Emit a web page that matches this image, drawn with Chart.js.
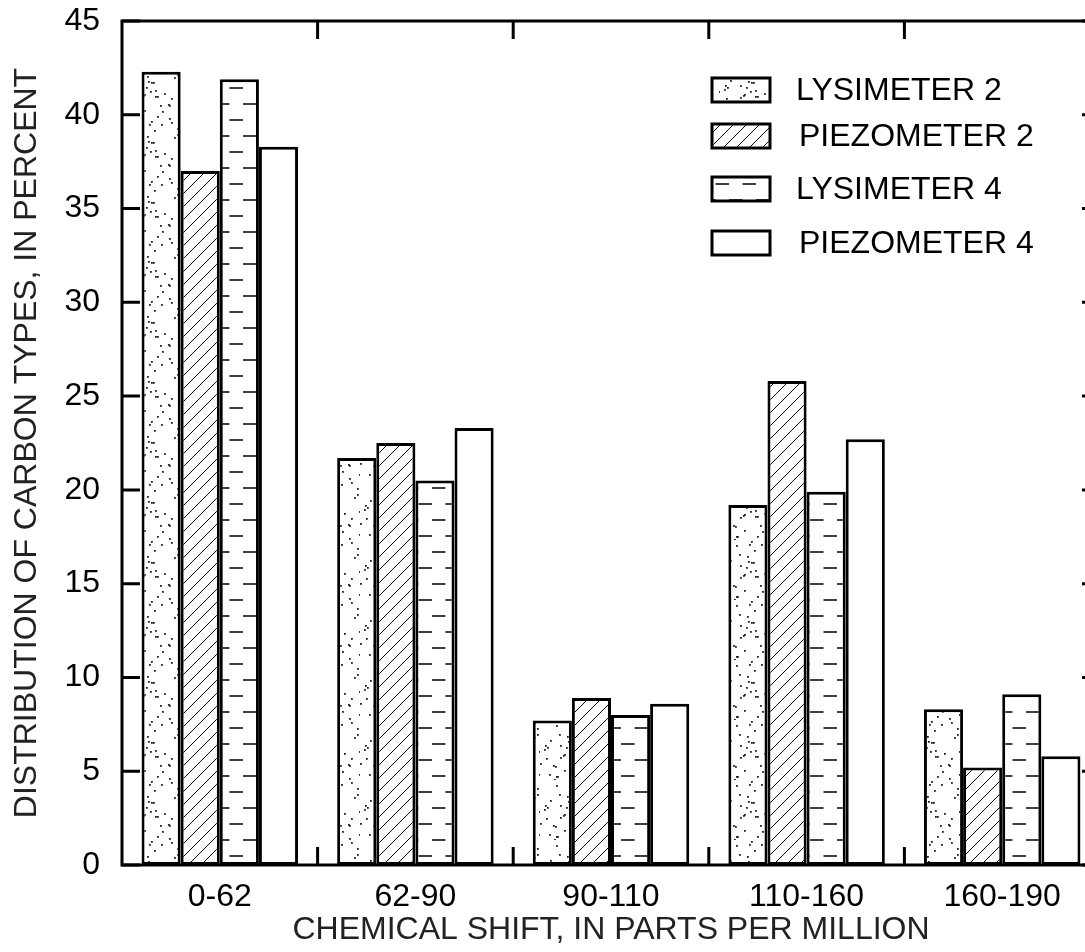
<!DOCTYPE html>
<html>
<head>
<meta charset="utf-8">
<title>Distribution of carbon types</title>
<script src="https://cdn.jsdelivr.net/npm/chart.js@4.4.0/dist/chart.umd.min.js"></script>
<style>
  html, body { margin: 0; padding: 0; background: #fff; overflow: hidden; }
  #wrap { position: relative; width: 1102px; height: 952px; }
</style>
</head>
<body>
<div id="wrap"><canvas id="chart"></canvas></div>
<script>
// --- Data ---
const categories = ['0-62', '62-90', '90-110', '110-160', '160-190'];
const seriesNames = ['LYSIMETER 2', 'PIEZOMETER 2', 'LYSIMETER 4', 'PIEZOMETER 4'];
const lysimeter2 = [42.3, 21.7, 7.7, 19.2, 8.3];
const piezometer2 = [37.0, 22.5, 8.9, 25.8, 5.2];
const lysimeter4 = [41.9, 20.5, 8.0, 19.9, 9.1];
const piezometer4 = [38.3, 23.3, 8.6, 22.7, 5.8];
const yTicks = [0, 5, 10, 15, 20, 25, 30, 35, 40, 45];

const FONT = '"Liberation Sans", Arial, sans-serif';
const FSIZE = 32;

// --- Fill patterns (stipple, hatch, dashes, plain) ---
function makeTile(w, h, draw) {
    const c = document.createElement('canvas');
    c.width = w; c.height = h;
    const g = c.getContext('2d');
    g.fillStyle = '#fff';
    g.fillRect(0, 0, w, h);
    draw(g);
    return document.createElement('canvas').getContext('2d').createPattern(c, 'repeat');
}

// texture only: scattered stipple dots
function hash(n) {
    const s = Math.sin(n * 12.9898 + 78.233) * 43758.5453;
    return s - Math.floor(s);
}
const dotPattern = makeTile(60, 60, g => {
    g.fillStyle = '#222';
    for (let i = 0; i < 46; i++) {
        const x = Math.floor(hash(i * 2 + 1) * 60);
        const y = Math.floor(hash(i * 2 + 2) * 60);
        g.fillRect(x, y, 1.8, 1.8);
    }
});

const hatchPattern = makeTile(13, 13, g => {
    g.strokeStyle = '#000';
    g.lineWidth = 1;
    g.beginPath();
    g.moveTo(-1, 14); g.lineTo(14, -1);
    g.moveTo(-1, 1); g.lineTo(1, -1);
    g.moveTo(12, 14); g.lineTo(14, 12);
    g.stroke();
});

const dashPattern = makeTile(27, 32, g => {
    g.strokeStyle = '#000';
    g.lineWidth = 1.5;
    g.beginPath();
    g.moveTo(0, 8); g.lineTo(13.5, 8);
    g.moveTo(13.5, 24); g.lineTo(27, 24);
    g.stroke();
});

const fills = [dotPattern, hatchPattern, dashPattern, '#fff'];

// --- Frame with inward ticks on all four sides ---
const framePlugin = {
    id: 'frame',
    afterDraw(chart) {
        const ctx = chart.ctx;
        const a = chart.chartArea;
        const x = chart.scales.x, y = chart.scales.y;
        const len = 18;
        ctx.save();
        ctx.strokeStyle = '#000';
        ctx.lineWidth = 3;
        ctx.strokeRect(a.left, a.top, a.right - a.left, a.bottom - a.top);
        ctx.beginPath();
        yTicks.forEach(v => {
            const py = y.getPixelForValue(v);
            ctx.moveTo(a.left, py); ctx.lineTo(a.left + len, py);
            ctx.moveTo(a.right, py); ctx.lineTo(a.right - len, py);
        });
        for (let i = 0; i < categories.length - 1; i++) {
            const px = (x.getPixelForValue(i) + x.getPixelForValue(i + 1)) / 2;
            ctx.moveTo(px, a.top); ctx.lineTo(px, a.top + len);
            ctx.moveTo(px, a.bottom); ctx.lineTo(px, a.bottom - len);
        }
        ctx.stroke();
        ctx.restore();
    }
};

// --- Legend drawn inside the plot, top right ---
const legendRows = [90, 136, 189, 243];
const legendPlugin = {
    id: 'boxLegend',
    afterDraw(chart) {
        const ctx = chart.ctx;
        ctx.save();
        ctx.font = FSIZE + 'px ' + FONT;
        ctx.textBaseline = 'middle';
        chart.data.datasets.forEach((ds, i) => {
            const cy = legendRows[i];
            ctx.fillStyle = ds.backgroundColor;
            ctx.fillRect(712, cy - 12, 58, 24);
            ctx.strokeStyle = '#000';
            ctx.lineWidth = 3;
            ctx.strokeRect(712, cy - 12, 58, 24);
            ctx.fillStyle = '#000';
            ctx.fillText(ds.label, i % 2 ? 799 : 796, cy + 1);
        });
        ctx.restore();
    }
};

const datasets = [lysimeter2, piezometer2, lysimeter4, piezometer4].map((vals, i) => ({
    label: seriesNames[i],
    data: vals,
    backgroundColor: fills[i],
    borderColor: '#000',
    borderWidth: 3,
    borderSkipped: false,
    categoryPercentage: 0.8,
    barPercentage: 1.0
}));

new Chart(document.getElementById('chart'), {
    type: 'bar',
    data: { labels: categories, datasets: datasets },
    options: {
        responsive: true,
        maintainAspectRatio: false,
        animation: false,
        layout: { padding: { top: 21, right: 2, left: 0, bottom: 0 } },
        plugins: {
            legend: { display: false },
            tooltip: { enabled: false }
        },
        scales: {
            x: {
                grid: { display: false, drawTicks: false },
                border: { display: false },
                ticks: { color: '#000', font: { family: FONT, size: FSIZE }, padding: 13, maxRotation: 0 },
                title: {
                    display: true,
                    text: 'CHEMICAL SHIFT, IN PARTS PER MILLION',
                    color: '#222',
                    font: { family: FONT, size: FSIZE },
                    padding: { top: 0, bottom: 3 }
                },
                afterFit(scale) { scale.height = 87; }
            },
            y: {
                min: 0,
                max: 45,
                // hidden tick marks still push the labels away from the axis
                grid: { display: false, drawTicks: true, tickLength: 22 },
                border: { display: false },
                ticks: { stepSize: 5, color: '#000', font: { family: FONT, size: FSIZE }, padding: 0 },
                title: {
                    display: true,
                    text: 'DISTRIBUTION OF CARBON TYPES, IN PERCENT',
                    color: '#222',
                    font: { family: FONT, size: FSIZE },
                    padding: { top: 8, bottom: 0 }
                },
                afterFit(scale) { scale.width = 122; }
            }
        }
    },
    plugins: [framePlugin, legendPlugin]
});
</script>
</body>
</html>
